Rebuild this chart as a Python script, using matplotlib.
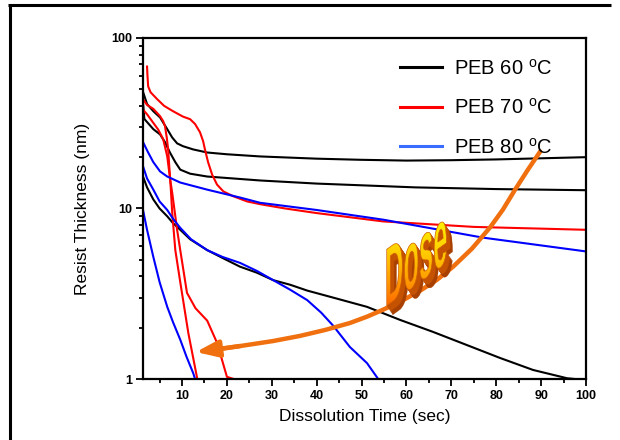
import numpy as np
import matplotlib
matplotlib.use('Agg')
import matplotlib.pyplot as plt
from matplotlib.lines import Line2D
from matplotlib.textpath import TextPath
from matplotlib.patches import PathPatch
from matplotlib.font_manager import FontProperties
from matplotlib.transforms import Affine2D
from matplotlib.colors import LinearSegmentedColormap
from matplotlib.ticker import MultipleLocator, FuncFormatter, NullFormatter

plt.rcParams['font.family'] = ['Liberation Sans', 'DejaVu Sans']
plt.rcParams['mathtext.default'] = 'regular'

# PEB 60 C (black), three doses
t60a = [1.34, 2.2, 3.6, 5.1, 6.7, 7.8, 8.9, 10.2, 12.5, 15.6, 20.0, 27.4, 40, 50, 60, 70, 80, 90, 100]
h60a = [48, 41, 37.2, 34.2, 29.2, 26.1, 24.1, 23.2, 22.2, 21.3, 20.8, 20.2, 19.6, 19.3, 19.1, 19.2, 19.4, 19.7, 20.0]
t60b = [1.3, 1.6, 3.6, 5.1, 6.2, 7.3, 8.5, 9.6, 11.8, 15.6, 27.4, 40, 62, 80, 100]
h60b = [42, 33.5, 29.2, 27.2, 24.5, 21.3, 18.7, 16.9, 16.0, 15.4, 14.6, 14.0, 13.3, 13.0, 12.8]
t60c = [1.3, 2.2, 3.6, 5.0, 6.7, 8.0, 9.6, 11.8, 15.6, 19.2, 22.9, 26.7, 30.3, 34.1, 37.9, 43.7,
        51.2, 58.6, 65.9, 73.5, 80.8, 88.2, 95.8, 97.5]
h60c = [15.4, 13.3, 11.3, 10.0, 9.0, 8.2, 7.5, 6.6, 5.7, 5.1, 4.56, 4.2, 3.8, 3.57, 3.3, 3.0,
        2.65, 2.22, 1.89, 1.58, 1.33, 1.13, 1.01, 1.0]

# PEB 70 C (red)
t70a = [2.2, 2.3, 2.45, 3.0, 4.45, 6.0, 8.0, 10.2, 11.8, 12.9, 14.0, 14.7, 15.1, 15.8, 16.7,
        17.8, 19.2, 21.4, 24.5, 27.4, 33, 40, 54.8, 75, 100]
h70a = [68, 60, 52, 48, 43.8, 40, 37.2, 34.6, 33.4, 31.3, 28.0, 24.8, 22.2, 18.7, 15.8,
        13.8, 12.6, 11.8, 11.0, 10.6, 10.0, 9.4, 8.4, 7.8, 7.5]
t70b = [1.3, 2.2, 3.6, 5.1, 5.8, 6.2, 6.6, 6.9, 7.2, 7.5, 7.8, 8.5, 9.6, 11.4, 13.4]
h70b = [43.8, 40.5, 38.4, 34.8, 32.5, 30.4, 26, 22.2, 17, 13, 9.5, 5.7, 3.7, 1.86, 1.0]
t70c = [1.3, 2.2, 4.7, 5.8, 6.7, 7.35, 7.8, 8.9, 9.6, 11.1, 13.0, 15.6, 17.8, 20.0, 21.5]
h70c = [38, 35.7, 29, 25.5, 20.2, 14.8, 12.4, 7.5, 5.7, 3.2, 2.6, 2.2, 1.63, 1.03, 1.0]

# PEB 80 C (blue)
t80a = [1.34, 2.45, 3.6, 5.1, 6.7, 9.6, 15.6, 22.9, 27.4, 40, 54.8, 77, 100]
h80a = [24.4, 21.3, 18.7, 16.5, 15.4, 14.2, 12.9, 11.6, 10.8, 9.8, 8.6, 6.75, 5.6]
t80b = [1.3, 2.2, 3.6, 5.0, 6.7, 8.0, 9.6, 12.0, 15.6, 19.0, 22.9, 26.7, 30.3, 34.0, 37.9,
        41.0, 43.7, 47.4, 51.2, 53.7]
h80b = [17.7, 15.0, 12.9, 11.0, 9.8, 8.7, 7.7, 6.6, 5.7, 5.2, 4.8, 4.3, 3.8, 3.35, 2.9,
        2.45, 2.05, 1.54, 1.24, 1.0]
t80c = [1.3, 2.2, 3.6, 5.0, 6.7, 8.0, 9.6, 11.0, 12.5, 12.9]
h80c = [9.8, 7.5, 5.2, 3.7, 2.65, 2.15, 1.7, 1.35, 1.08, 1.0]

labels = ['PEB 60 $^{o}$C', 'PEB 70 $^{o}$C', 'PEB 80 $^{o}$C']

# "Dose" arrow path (annotation)
arrow_t = [89.8, 87.1, 84.2, 81.5, 78.6, 74.6, 70.4, 66.8, 63.0, 59.0, 54.8, 51.2,
           47.4, 41.9, 36.3, 30.3, 22.9, 15.6]
arrow_h = [21.6, 16.96, 12.9, 9.86, 7.73, 5.82, 4.56, 3.82, 3.29, 2.88, 2.55, 2.32,
           2.13, 1.94, 1.79, 1.67, 1.56, 1.46]
arrow_tip = (13.1, 1.44)

fig = plt.figure(figsize=(6.2, 4.4), dpi=100)
ax = fig.add_axes([143/620, 61/440, 443/620, 341/440])

lw = 1.5
for t, h in [(t60a, h60a), (t60b, h60b), (t60c, h60c)]:
    ax.plot(t, h, color='black', lw=lw)
for t, h in [(t70a, h70a), (t70b, h70b), (t70c, h70c)]:
    ax.plot(t, h, color='#ff0000', lw=lw)
for t, h in [(t80a, h80a), (t80b, h80b), (t80c, h80c)]:
    ax.plot(t, h, color='#0000ff', lw=lw)

orange = '#f07010'
ax.plot(arrow_t, arrow_h, color=orange, lw=3.2, solid_capstyle='round',
        solid_joinstyle='round', zorder=4)
ax.annotate('', xy=arrow_tip, xytext=(arrow_t[-2], arrow_h[-2]),
            arrowprops=dict(arrowstyle='-|>,head_length=0.85,head_width=0.32',
                            color=orange, lw=3.2, mutation_scale=16,
                            shrinkA=0, shrinkB=0), zorder=4)

ax.set_yscale('log')
ax.set_ylim(1, 100)
ax.set_xlim(1.3, 100)
ax.xaxis.set_major_locator(MultipleLocator(10))
ax.xaxis.set_minor_locator(MultipleLocator(5))
ax.yaxis.set_major_formatter(FuncFormatter(lambda v, p: '%g' % v))
ax.yaxis.set_minor_formatter(NullFormatter())
ax.tick_params(which='both', direction='out', width=1.3, labelsize=9, pad=3)
ax.tick_params(which='major', length=5)
ax.tick_params(which='minor', length=3)
for lab in ax.get_xticklabels() + ax.get_yticklabels():
    lab.set_fontweight('bold')
for s in ax.spines.values():
    s.set_linewidth(1.6)

ax.set_xlabel('Dissolution Time (sec)', fontsize=12.5, labelpad=5)
ax.set_ylabel('Resist Thickness (nm)', fontsize=12.5, labelpad=15)

handles = [Line2D([], [], color='black', lw=2.2),
           Line2D([], [], color='#ff0000', lw=2.2),
           Line2D([], [], color='#3a6cff', lw=2.2)]
ax.legend(handles, labels, loc='upper left', bbox_to_anchor=(0.58, 0.94),
          frameon=False, fontsize=14.5, handlelength=2.1, handletextpad=0.6,
          labelspacing=0.97, borderpad=0, borderaxespad=0)

# overlay in pixel coordinates: frame lines and the 3D "Dose" word
dax = fig.add_axes([0, 0, 1, 1], zorder=5)
dax.patch.set_alpha(0)
dax.axis('off')
dax.plot([8, 611], [435, 435], color='black', lw=2.2, solid_capstyle='butt')
dax.plot([10, 10], [435, 0], color='black', lw=2.2, solid_capstyle='butt')

tp = TextPath((0, 0), 'Dose', size=1,
              prop=FontProperties(family='Liberation Sans', weight='bold'))
word = Affine2D().scale(25.5, 82).skew_deg(0, 36).translate(385, 133).transform_path(tp)
for k in range(10, 0, -1):
    shifted = Affine2D().translate(0.6 * k, -0.9 * k).transform_path(word)
    c = '#a84000' if k > 6 else '#c45200'
    dax.add_patch(PathPatch(shifted, facecolor=c, edgecolor=c, lw=0.3, zorder=2))
face = PathPatch(word, facecolor='none', edgecolor='#d06000', lw=0.5, zorder=4)
dax.add_patch(face)
bb = word.get_extents()
cmap = LinearSegmentedColormap.from_list('dose', ['#ff6a00', '#ffa000', '#ffd000', '#fff000'])
grad = np.linspace(0, 1, 100).reshape(-1, 1)
im = dax.imshow(grad, origin='lower', extent=[bb.x0, bb.x1, bb.y0, bb.y1],
                cmap=cmap, aspect='auto', interpolation='bilinear', zorder=3)
im.set_clip_path(face)
dax.set_xlim(0, 620)
dax.set_ylim(0, 440)

fig.savefig('out.png', dpi=100)
